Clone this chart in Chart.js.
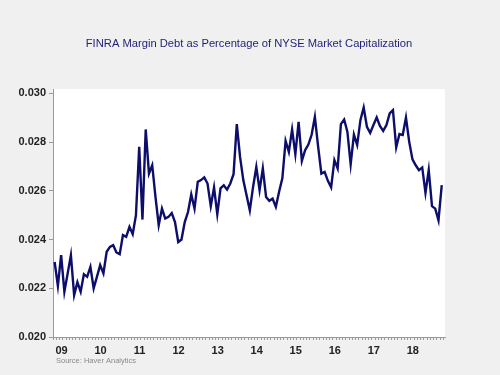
<!DOCTYPE html>
<html>
<head>
<meta charset="utf-8">
<script src="https://cdn.jsdelivr.net/npm/chart.js@4.4.1/dist/chart.umd.min.js"></script>
<style>
  html, body { margin: 0; padding: 0; background: #f0f0f0; }
  #chart { display: block; }
</style>
</head>
<body>
<canvas id="chart" width="500" height="375"></canvas>
<script>
// Year labels, one per January (2009 - 2018)
const yearLabels = ['09', '10', '11', '12', '13', '14', '15', '16', '17', '18'];

// Monthly margin debt / NYSE market cap, Jan 2009 .. Dec 2018
const marginDebtRatio = [
    0.02308, 0.02210, 0.02336, 0.02186, 0.02260, 0.02336, 0.02172, 0.02225, 0.02186, 0.02258, 0.02247, 0.02288,
    0.02200, 0.02247, 0.02295, 0.02261, 0.02350, 0.02370, 0.02377, 0.02347, 0.02340, 0.02418, 0.02411, 0.02452,
    0.02422, 0.02500, 0.02781, 0.02482, 0.02852, 0.02671, 0.02705, 0.02575, 0.02459, 0.02527, 0.02486, 0.02493,
    0.02509, 0.02472, 0.02390, 0.02400, 0.02472, 0.02513, 0.02585, 0.02527, 0.02637, 0.02644, 0.02655, 0.02630,
    0.02537, 0.02614, 0.02504, 0.02610, 0.02623, 0.02605, 0.02630, 0.02668, 0.02874, 0.02739, 0.02644, 0.02582,
    0.02520, 0.02616, 0.02698, 0.02603, 0.02692, 0.02575, 0.02559, 0.02568, 0.02534, 0.02596, 0.02651, 0.02805,
    0.02760, 0.02852, 0.02751, 0.02883, 0.02723, 0.02767, 0.02790, 0.02830, 0.02904, 0.02781, 0.02671, 0.02678,
    0.02641, 0.02614, 0.02726, 0.02692, 0.02874, 0.02893, 0.02842, 0.02709, 0.02831, 0.02788, 0.02890, 0.02942,
    0.02863, 0.02838, 0.02870, 0.02901, 0.02866, 0.02846, 0.02870, 0.02918, 0.02931, 0.02778, 0.02833, 0.02829,
    0.02901, 0.02801, 0.02729, 0.02705, 0.02685, 0.02696, 0.02592, 0.02685, 0.02537, 0.02527, 0.02479, 0.02623
];

const yTicks = [0.020, 0.022, 0.024, 0.026, 0.028, 0.030];

const fontFamily = 'Arial, "Liberation Sans", sans-serif';
const labelFont = { family: fontFamily, size: 11, weight: 'bold' };

// white plot area on the grey page
const plotBackground = {
    id: 'plotBackground',
    beforeDraw(chart) {
        const { ctx, chartArea } = chart;
        ctx.save();
        ctx.fillStyle = '#ffffff';
        ctx.fillRect(chartArea.left, chartArea.top, chartArea.right - chartArea.left, chartArea.bottom - chartArea.top);
        ctx.restore();
    }
};

// title (centred on the whole page) and the source line
const pageText = {
    id: 'pageText',
    afterDraw(chart) {
        const ctx = chart.ctx;
        ctx.save();
        ctx.textBaseline = 'middle';

        ctx.font = `11.2px ${fontFamily}`;
        ctx.fillStyle = '#1f1f75';
        ctx.textAlign = 'center';
        ctx.fillText('FINRA Margin Debt as Percentage of NYSE Market Capitalization', 249, 44);

        ctx.font = `7.5px ${fontFamily}`;
        ctx.fillStyle = '#8a8a8a';
        ctx.textAlign = 'left';
        ctx.fillText('Source: Haver Analytics', 56, 361);
        ctx.restore();
    }
};

const points = marginDebtRatio.map((v, i) => ({ x: i, y: v }));

new Chart(document.getElementById('chart'), {
    type: 'line',
    data: {
        datasets: [{
            data: points,
            borderColor: '#0d0d6b',
            borderWidth: 2.4,
            pointRadius: 0,
            tension: 0,
            fill: false
        }]
    },
    options: {
        responsive: false,
        animation: false,
        layout: { padding: { left: 0, right: 55, top: 89, bottom: 0 } },
        plugins: {
            legend: { display: false },
            tooltip: { enabled: false },
            title: { display: false }
        },
        scales: {
            x: {
                type: 'linear',
                min: -0.5,
                max: 120,
                afterBuildTicks: (scale) => {
                    // a tick at every month boundary
                    scale.ticks = Array.from({ length: 121 }, (_, n) => ({ value: n - 0.5 }));
                },
                afterFit: (scale) => { scale.height = 38; },
                ticks: {
                    autoSkip: false,
                    minRotation: 0,
                    maxRotation: 0,
                    labelOffset: 8.5,
                    padding: 4,
                    color: '#222222',
                    font: labelFont,
                    callback: (value, index) => (index % 12 === 0 && yearLabels[index / 12]) || ''
                },
                grid: { drawOnChartArea: false, tickLength: 3, tickColor: '#9a9a9a' },
                border: { color: '#9a9a9a' }
            },
            y: {
                min: 0.020,
                max: 0.03018,
                afterBuildTicks: (scale) => {
                    scale.ticks = yTicks.map(v => ({ value: v }));
                },
                afterFit: (scale) => { scale.width = 53; },
                ticks: {
                    padding: 3,
                    color: '#222222',
                    font: labelFont,
                    callback: (value) => value.toFixed(3)
                },
                grid: { drawOnChartArea: false, tickLength: 4, tickColor: '#9a9a9a' },
                border: { color: '#9a9a9a' }
            }
        }
    },
    plugins: [plotBackground, pageText]
});
</script>
</body>
</html>
